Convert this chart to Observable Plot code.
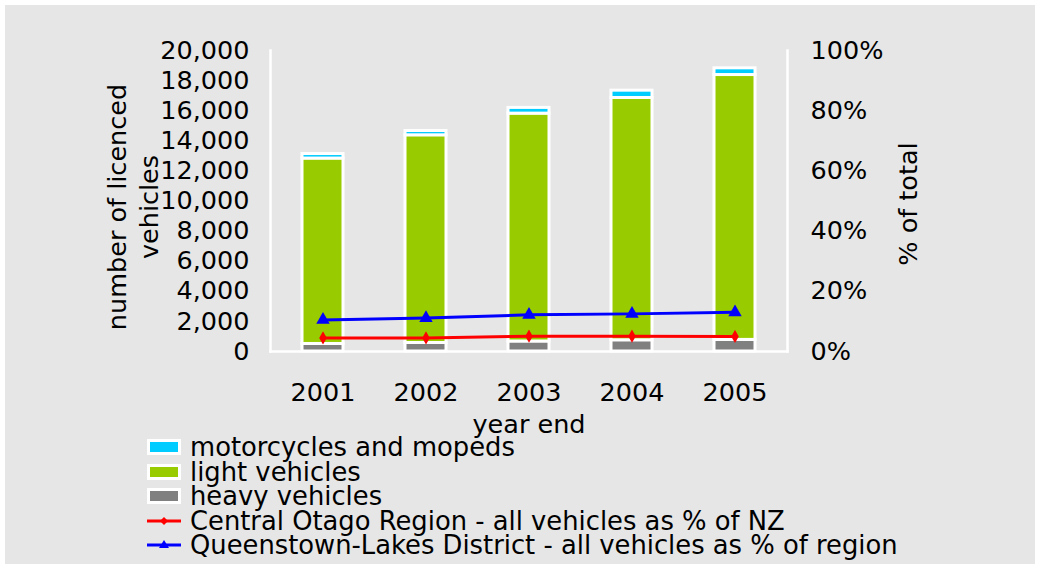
<!DOCTYPE html>
<html>
<head>
<meta charset="utf-8">
<script src="https://cdn.jsdelivr.net/npm/d3@7"></script>
<script src="https://cdn.jsdelivr.net/npm/@observablehq/plot@0.6"></script>
<style>
  html, body { margin: 0; padding: 0; background: #ffffff; }
  #panel { position: absolute; left: 5px; top: 5px; width: 1030px; height: 559px; background: #e6e6e6; font-family: "DejaVu Sans", Verdana, sans-serif; }
  #legend { padding-left: 142px; font-size: 25.8px; line-height: 24.5px; color: #000; }
  .item { display: flex; align-items: center; height: 24.5px; white-space: nowrap; }
  .sw { display: inline-block; width: 28px; height: 10px; border: 3px solid #fff; margin-right: 9px; }
  .ln { display: inline-block; width: 34px; height: 16px; margin-right: 9px; }
</style>
</head>
<body>
<div id="panel"><div id="chart"></div><div id="legend"></div></div>
<script>
const years = ["2001", "2002", "2003", "2004", "2005"];
const heavyVehicles = [500, 565, 665, 745, 770];
const lightVehicles = [12320, 13800, 15140, 16100, 17600];
const motorcycles = [300, 285, 380, 485, 445];
const centralOtagoPct = [4.5, 4.5, 5.1, 5.1, 5.0];
const queenstownPct = [10.5, 11.1, 12.2, 12.5, 13.0];

const barSeries = ["heavy vehicles", "light vehicles", "motorcycles and mopeds"];
const barColors = ["#808080", "#99cc00", "#00ccff"];
const lineSeries = ["Central Otago Region - all vehicles as % of NZ", "Queenstown-Lakes District - all vehicles as % of region"];
const lineColors = ["#ff0000", "#0000ff"];

const leftMax = 20000;
const leftTicks = d3.range(0, 20001, 2000);
const rightMax = 100;
const rightTicks = [0, 20, 40, 60, 80, 100];

const stackData = [];
[heavyVehicles, lightVehicles, motorcycles].forEach((arr, i) => {
  years.forEach((y, j) => stackData.push({year: y, series: barSeries[i], value: arr[j]}));
});
const central = years.map((y, j) => ({year: y, pct: centralOtagoPct[j]}));
const queens = years.map((y, j) => ({year: y, pct: queenstownPct[j]}));
const toLeft = d => d.pct / rightMax * leftMax;

const chart = Plot.plot({
  width: 1030,
  height: 430,
  marginLeft: 265,
  marginRight: 248,
  marginTop: 45,
  marginBottom: 84,
  style: {fontFamily: "DejaVu Sans, Verdana, sans-serif", fontSize: "25.5px", background: "transparent", color: "#000", overflow: "visible"},
  x: {domain: years, paddingInner: 0.6, paddingOuter: 0.3, label: null},
  y: {domain: [0, leftMax], label: null},
  color: {domain: barSeries, range: barColors},
  marks: [
    Plot.frame({anchor: "left", stroke: "#fff", strokeWidth: 2.5}),
    Plot.frame({anchor: "right", stroke: "#fff", strokeWidth: 2.5}),
    Plot.frame({anchor: "bottom", stroke: "#fff", strokeWidth: 2.5}),
    Plot.barY(stackData, {x: "year", y: "value", fill: "series", stroke: "#fff", strokeWidth: 3}),
    Plot.lineY(central, {x: "year", y: toLeft, stroke: lineColors[0], strokeWidth: 3}),
    Plot.dot(central, {x: "year", y: toLeft, fill: lineColors[0], symbol: "diamond", r: 4}),
    Plot.lineY(queens, {x: "year", y: toLeft, stroke: lineColors[1], strokeWidth: 3}),
    Plot.dot(queens, {x: "year", y: toLeft, fill: lineColors[1], symbol: "triangle", r: 5}),
    Plot.axisX({tickSize: 0, tickPadding: 31, label: null}),
    Plot.text(["year end"], {frameAnchor: "bottom", dy: 73, lineAnchor: "middle", textAnchor: "middle", fill: "#000"}),
    Plot.axisY({anchor: "left", ticks: leftTicks, tickFormat: d3.format(","), tickSize: 0, tickPadding: 21, label: null}),
    Plot.axisY(rightTicks.map(p => p / rightMax * leftMax), {anchor: "right", tickFormat: v => Math.round(v / leftMax * rightMax) + "%", tickSize: 0, tickPadding: 23, label: null}),
    Plot.text(["number of licenced\nvehicles"], {frameAnchor: "left", rotate: -90, dx: -139, dy: 6, lineHeight: 1.25, lineAnchor: "middle", textAnchor: "middle", fill: "#000"}),
    Plot.text(["% of total"], {frameAnchor: "right", rotate: -90, dx: 121, dy: 3, lineAnchor: "middle", textAnchor: "middle", fill: "#000"})
  ]
});
document.getElementById("chart").appendChild(chart);

const legend = document.getElementById("legend");
const barOrder = [2, 1, 0];
barOrder.forEach(i => {
  const it = document.createElement("div");
  it.className = "item";
  it.innerHTML = `<span class="sw" style="background:${barColors[i]}"></span><span>${barSeries[i]}</span>`;
  legend.appendChild(it);
});
lineSeries.forEach((name, i) => {
  const it = document.createElement("div");
  it.className = "item";
  const marker = i === 0
    ? `<path d="M17,4 L21,8 L17,12 L13,8 Z" fill="${lineColors[i]}"/>`
    : `<path d="M17,3 L22,11 L12,11 Z" fill="${lineColors[i]}"/>`;
  it.innerHTML = `<svg class="ln" viewBox="0 0 34 16"><line x1="0" y1="8" x2="34" y2="8" stroke="${lineColors[i]}" stroke-width="3"/>${marker}</svg><span>${name}</span>`;
  legend.appendChild(it);
});
</script>
</body>
</html>
